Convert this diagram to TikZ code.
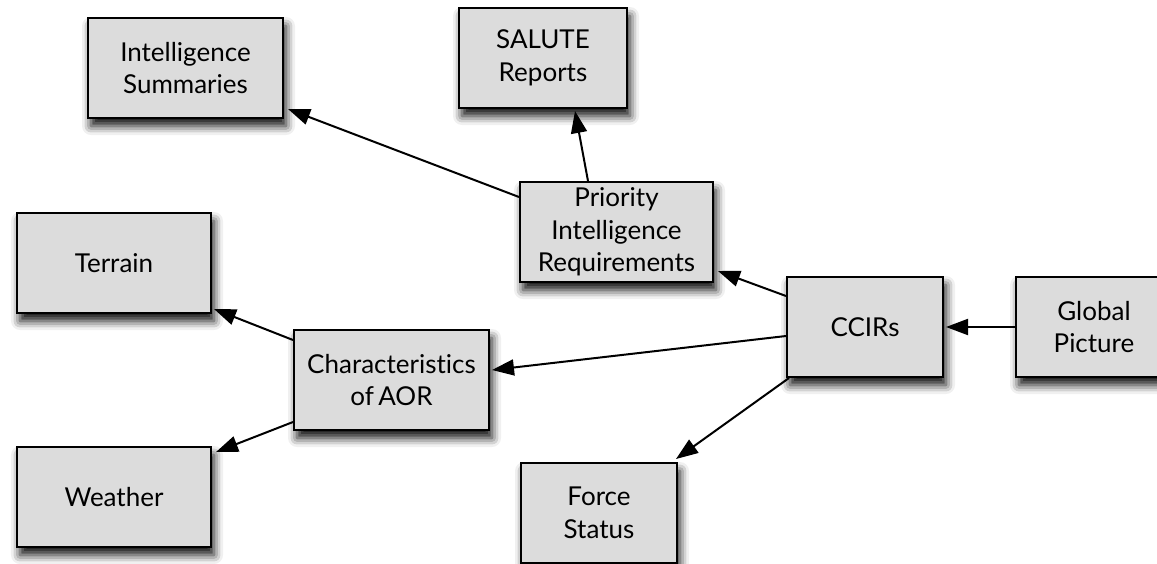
\documentclass[tikz,border=0pt]{standalone}
\usepackage{fontspec}
\setmainfont{Lato}[Ligatures=NoCommon]
\usetikzlibrary{arrows.meta,calc,shadows.blur}

\tikzset{
  box/.style={draw=black, line width=2pt, fill=boxgray, inner sep=0pt,
    align=center, minimum height=100pt,
    font=\fontsize{26}{32.5}\selectfont,
    blur shadow={shadow xshift=3pt, shadow yshift=-8pt,
      shadow blur radius=9pt, shadow opacity=95}},
  arr/.style={line width=2pt, -{Triangle[length=22pt,width=16pt]}},
}
\definecolor{boxgray}{HTML}{DCDCDC}

\begin{document}
\begin{tikzpicture}[x=1pt,y=-1pt]
  \useasboundingbox (0,0) rectangle (1157,563);

  % boxes
  \node[box, minimum width=195pt] (intsum)  at (185.5,68)  {Intelligence\\Summaries};
  \node[box, minimum width=168pt] (salute)  at (543,58)    {SALUTE\\Reports};
  \node[box, minimum width=193pt] (pir)     at (616.5,232) {Priority\\Intelligence\\Requirements};
  \node[box, minimum width=194pt] (terrain) at (114,263)   {Terrain};
  \node[box, minimum width=195pt] (chars)   at (391.5,380) {Characteristics\\of\,AOR};
  \node[box, minimum width=194pt] (weather) at (114,497)   {Weather};
  \node[box, minimum width=156pt] (ccirs)   at (865,327)   {CCIRs};
  \node[box, minimum width=156pt] (global)  at (1094,327)  {Global\\Picture};
  \node[box, minimum width=156pt] (force)   at (599,513)   {Force\\Status};

  % connectors
  \draw[arr] (pir.west |- 0,197) -- ($(intsum.south east)+(4,-10)$);
  \draw[arr] (pir.north -| 588,0) -- ($(salute.south)+(32,2)$);
  \draw[arr] (ccirs.west |- 0,296) -- ($(pir.south east)+(4,-12)$);
  \draw[arr] (ccirs.west |- 0,336) -- ($(chars.east)+(2,-10)$);
  \draw[arr] (global.west) -- ($(ccirs.east)+(2,0)$);
  \draw[arr] ($(ccirs.south west)+(3,0)$) -- ($(force.north east)+(-2,-3)$);
  \draw[arr] (chars.west |- 0,340) -- ($(terrain.south east)+(2,-5)$);
  \draw[arr] (chars.west |- 0,422) -- ($(weather.north east)+(4,6)$);
\end{tikzpicture}
\end{document}
